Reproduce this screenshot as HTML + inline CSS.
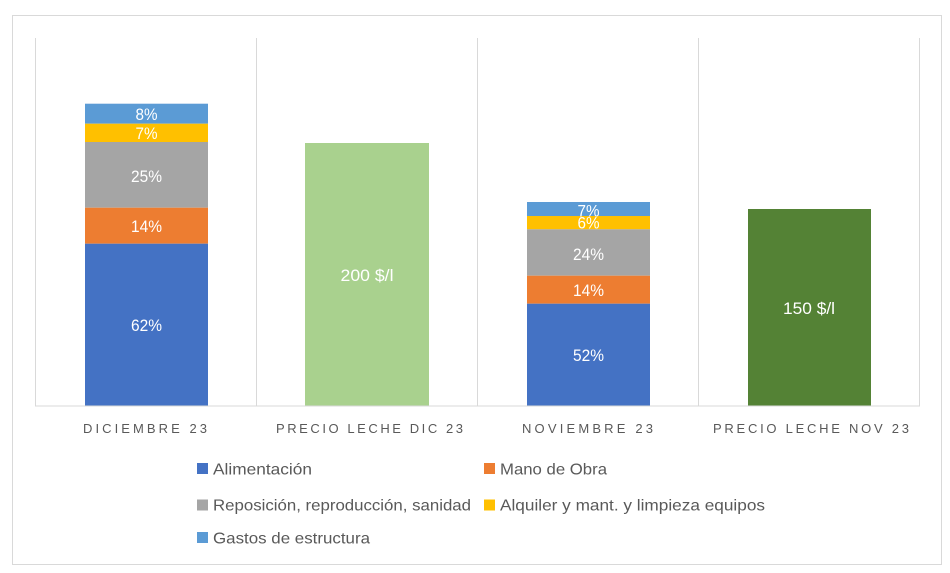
<!DOCTYPE html>
<html>
<head>
<meta charset="utf-8">
<style>
html,body{margin:0;padding:0;background:#fff;}
svg{display:block;}
text{font-family:"Liberation Sans",Arial,sans-serif;}
</style>
</head>
<body>
<svg width="950" height="573" viewBox="0 0 950 573" xmlns="http://www.w3.org/2000/svg">
<rect x="0" y="0" width="950" height="573" fill="#fff"/>
<rect x="12.5" y="15.5" width="929" height="549" fill="#fff" stroke="#d9d9d9" stroke-width="1"/>
<!-- gridlines -->
<g stroke="#d9d9d9" stroke-width="1">
<line x1="35.5" y1="38" x2="35.5" y2="406"/>
<line x1="256.5" y1="38" x2="256.5" y2="406"/>
<line x1="477.5" y1="38" x2="477.5" y2="406"/>
<line x1="698.5" y1="38" x2="698.5" y2="406"/>
<line x1="919.5" y1="38" x2="919.5" y2="406"/>
</g>
<!-- DIC bar -->
<rect x="85" y="103.7" width="123" height="20" fill="#5B9BD5"/>
<rect x="85" y="123.7" width="123" height="18.3" fill="#FFC000"/>
<rect x="85" y="142" width="123" height="65.7" fill="#A5A5A5"/>
<rect x="85" y="207.7" width="123" height="36" fill="#ED7D31"/>
<rect x="85" y="243.7" width="123" height="162.3" fill="#4472C4"/>
<!-- PRECIO DIC -->
<rect x="305" y="143" width="124" height="263" fill="#A9D18E"/>
<!-- NOV bar -->
<rect x="527" y="202" width="123" height="14" fill="#5B9BD5"/>
<rect x="527" y="216" width="123" height="13.3" fill="#FFC000"/>
<rect x="527" y="229.3" width="123" height="46.4" fill="#A5A5A5"/>
<rect x="527" y="275.7" width="123" height="28" fill="#ED7D31"/>
<rect x="527" y="303.7" width="123" height="102.3" fill="#4472C4"/>
<!-- PRECIO NOV -->
<rect x="748" y="209" width="123" height="197" fill="#548235"/>
<!-- axis line -->
<line x1="35" y1="406" x2="920" y2="406" stroke="#d9d9d9" stroke-width="1"/>
<!-- data labels -->
<g fill="#fff" font-size="17" text-anchor="middle">
<text x="146.5" y="120" textLength="22" lengthAdjust="spacingAndGlyphs">8%</text>
<text x="146.5" y="139" textLength="22" lengthAdjust="spacingAndGlyphs">7%</text>
<text x="146.5" y="182" textLength="31" lengthAdjust="spacingAndGlyphs">25%</text>
<text x="146.5" y="232" textLength="31" lengthAdjust="spacingAndGlyphs">14%</text>
<text x="146.5" y="331" textLength="31" lengthAdjust="spacingAndGlyphs">62%</text>
<text x="367" y="281" textLength="53" lengthAdjust="spacingAndGlyphs">200 $/l</text>
<text x="588.5" y="216.5" textLength="22" lengthAdjust="spacingAndGlyphs">7%</text>
<text x="588.5" y="228.5" textLength="22" lengthAdjust="spacingAndGlyphs">6%</text>
<text x="588.5" y="260" textLength="31" lengthAdjust="spacingAndGlyphs">24%</text>
<text x="588.5" y="296" textLength="31" lengthAdjust="spacingAndGlyphs">14%</text>
<text x="588.5" y="361" textLength="31" lengthAdjust="spacingAndGlyphs">52%</text>
<text x="809" y="314" textLength="52" lengthAdjust="spacingAndGlyphs">150 $/l</text>
</g>
<!-- category labels -->
<g fill="#595959" font-size="13">
<text x="83" y="433" textLength="124" lengthAdjust="spacing">DICIEMBRE 23</text>
<text x="276" y="433" textLength="187" lengthAdjust="spacing">PRECIO LECHE DIC 23</text>
<text x="522" y="433" textLength="131" lengthAdjust="spacing">NOVIEMBRE 23</text>
<text x="713" y="433" textLength="196" lengthAdjust="spacing">PRECIO LECHE NOV 23</text>
</g>
<!-- legend -->
<rect x="197" y="463" width="11" height="11" fill="#4472C4"/>
<rect x="484" y="463" width="11" height="11" fill="#ED7D31"/>
<rect x="197" y="499.5" width="11" height="11" fill="#A5A5A5"/>
<rect x="484" y="499.5" width="11" height="11" fill="#FFC000"/>
<rect x="197" y="532" width="11" height="11" fill="#5B9BD5"/>
<g fill="#595959" font-size="16">
<text x="213" y="474.5" textLength="99" lengthAdjust="spacingAndGlyphs">Alimentación</text>
<text x="500" y="474.5" textLength="107" lengthAdjust="spacingAndGlyphs">Mano de Obra</text>
<text x="213" y="510.5" textLength="258" lengthAdjust="spacingAndGlyphs">Reposición, reproducción, sanidad</text>
<text x="500" y="510.5" textLength="265" lengthAdjust="spacingAndGlyphs">Alquiler y mant. y limpieza equipos</text>
<text x="213" y="543.5" textLength="157" lengthAdjust="spacingAndGlyphs">Gastos de estructura</text>
</g>
</svg>
</body>
</html>
